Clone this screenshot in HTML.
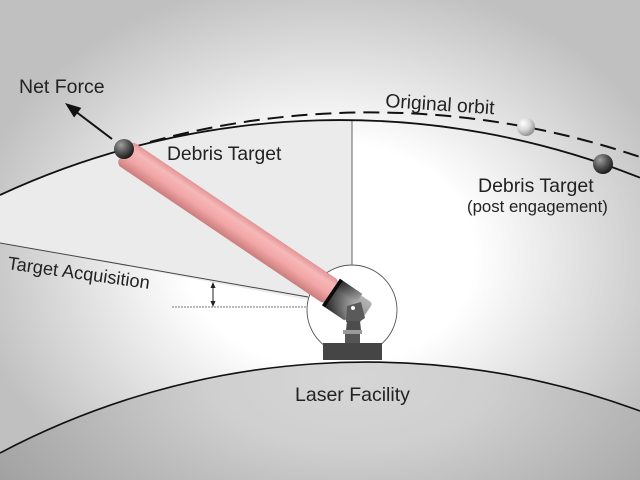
<!DOCTYPE html>
<html><head><meta charset="utf-8"><style>
html,body{margin:0;padding:0;background:#fff;width:640px;height:480px;overflow:hidden;}
svg{display:block;overflow:hidden;}
text{font-family:"Liberation Sans",Arial,sans-serif;fill:#222;}
</style></head><body>
<svg width="640" height="480" viewBox="0 0 640 480" xmlns="http://www.w3.org/2000/svg">
<defs>
<radialGradient id="bg" gradientUnits="userSpaceOnUse" cx="330" cy="255" r="280" gradientTransform="translate(330 255) scale(1.3 1) translate(-330 -255)">
<stop offset="0" stop-color="#ffffff"/>
<stop offset="0.4" stop-color="#ffffff"/>
<stop offset="1" stop-color="#c0c0c0"/>
</radialGradient>
<radialGradient id="earth" gradientUnits="userSpaceOnUse" cx="350" cy="380" r="200" gradientTransform="translate(350 380) scale(2 1) translate(-350 -380)">
<stop offset="0" stop-color="#d6d6d6"/>
<stop offset="0.35" stop-color="#cfcfcf"/>
<stop offset="1" stop-color="#a2a2a2"/>
</radialGradient>
<radialGradient id="dball" cx="0.35" cy="0.3" r="0.75">
<stop offset="0" stop-color="#a0a0a0"/>
<stop offset="0.5" stop-color="#555"/>
<stop offset="1" stop-color="#151515"/>
</radialGradient>
<radialGradient id="lball" cx="0.35" cy="0.3" r="0.75">
<stop offset="0" stop-color="#ffffff"/>
<stop offset="0.5" stop-color="#d8d8d8"/>
<stop offset="1" stop-color="#8a8a8a"/>
</radialGradient>
<linearGradient id="beam" x1="0" y1="-14" x2="0" y2="14" gradientUnits="userSpaceOnUse">
<stop offset="0" stop-color="#e29494"/>
<stop offset="0.25" stop-color="#f6b8b8"/>
<stop offset="0.6" stop-color="#f2a6a6"/>
<stop offset="1" stop-color="#c97d7d"/>
</linearGradient>
<linearGradient id="tube" x1="0" y1="0" x2="26" y2="0" gradientUnits="userSpaceOnUse">
<stop offset="0" stop-color="#1c1c1c"/>
<stop offset="1" stop-color="#9a9a9a"/>
</linearGradient>
<linearGradient id="tubeV" x1="0" y1="-16" x2="0" y2="16" gradientUnits="userSpaceOnUse">
<stop offset="0" stop-color="#000" stop-opacity="0.1"/>
<stop offset="0.35" stop-color="#fff" stop-opacity="0.15"/>
<stop offset="1" stop-color="#000" stop-opacity="0.35"/>
</linearGradient>
<linearGradient id="rear" x1="0" y1="-14" x2="0" y2="15" gradientUnits="userSpaceOnUse">
<stop offset="0" stop-color="#b4b4b4"/>
<stop offset="0.5" stop-color="#9c9c9c"/>
<stop offset="1" stop-color="#6a6a6a"/>
</linearGradient>
</defs>

<rect x="0" y="0" width="640" height="480" fill="url(#bg)"/>

<!-- wedge -->
<path d="M0,195 A809,809 0 0 1 352,120.1 L352,265 A45,45 0 0 0 308,300 L0,243 Z" fill="#ebebeb"/>

<!-- dome -->
<circle cx="352" cy="310" r="45" fill="#fff" stroke="#555" stroke-width="0.9"/>

<!-- earth -->
<path d="M0,480 L0,453 A786,786 0 0 1 640,411 L640,480 Z" fill="url(#earth)"/>
<path d="M0,453 A786,786 0 0 1 640,411" fill="none" stroke="#111" stroke-width="1.6"/>

<!-- vertical line -->
<line x1="352" y1="120" x2="352" y2="265" stroke="#666" stroke-width="1"/>
<!-- target acquisition line -->
<line x1="0" y1="243" x2="308" y2="297" stroke="#444" stroke-width="1"/>
<!-- dashed horizontal -->
<line x1="172" y1="307" x2="307" y2="307" stroke="#777" stroke-width="1" stroke-dasharray="2 1"/>
<!-- double arrow -->
<line x1="213" y1="285" x2="213" y2="304" stroke="#222" stroke-width="1"/>
<polygon points="213,282 210.5,288 215.5,288" fill="#222"/>
<polygon points="213,307 210.5,301 215.5,301" fill="#222"/>

<!-- orbits -->
<path d="M0,195 A809,809 0 0 1 640,177.7" fill="none" stroke="#111" stroke-width="1.8"/>
<path d="M150,142 A836.4,836.4 0 0 1 640,157" fill="none" stroke="#111" stroke-width="2" stroke-dasharray="16 8"/>

<!-- beam and telescope -->
<g transform="translate(331,292) rotate(34)">
<rect x="-250" y="-14" width="252" height="28" rx="6" fill="url(#beam)"/>
<rect x="25" y="-14" width="16" height="29" rx="3" fill="url(#rear)"/>
<rect x="0" y="-16" width="27" height="32" fill="url(#tube)"/>
<rect x="0" y="-16" width="27" height="32" fill="url(#tubeV)"/>
<rect x="0" y="-16" width="3.5" height="32" fill="#0a0a0a"/>
</g>

<!-- yoke / pedestal -->
<polygon points="347,306 361,302 365,318 359,322 346,322" fill="#5a5a5a"/>
<circle cx="353" cy="308" r="2" fill="#fff"/>
<polygon points="347,321 360,321 361,330 346,330" fill="#4c4c4c"/>
<rect x="343" y="330" width="19" height="4" fill="#9a9a9a"/>
<rect x="345" y="334" width="15" height="9" fill="#555"/>
<rect x="323" y="343" width="59" height="17" fill="#454545"/>

<!-- balls -->
<circle cx="124" cy="149" r="10" fill="url(#dball)"/>
<circle cx="526" cy="127" r="9" fill="url(#lball)"/>
<circle cx="603" cy="164" r="10" fill="url(#dball)"/>

<!-- net force arrow -->
<line x1="112" y1="139" x2="77" y2="112.5" stroke="#111" stroke-width="2"/>
<polygon points="65,103 81.3,107.9 74.1,117.5" fill="#111"/>

<!-- labels -->
<text x="19" y="93" font-size="19.5">Net Force</text>
<text x="167" y="160" font-size="19.3">Debris Target</text>
<text x="385" y="107" font-size="19.3" transform="rotate(3.8 385 107)">Original orbit</text>
<text x="478" y="192" font-size="19.5">Debris Target</text>
<text x="467" y="212" font-size="16.8">(post engagement)</text>
<text x="7" y="269" font-size="18.3" transform="rotate(8 7 269)">Target Acquisition</text>
<text x="295" y="401" font-size="19.5">Laser Facility</text>
</svg>
</body></html>
